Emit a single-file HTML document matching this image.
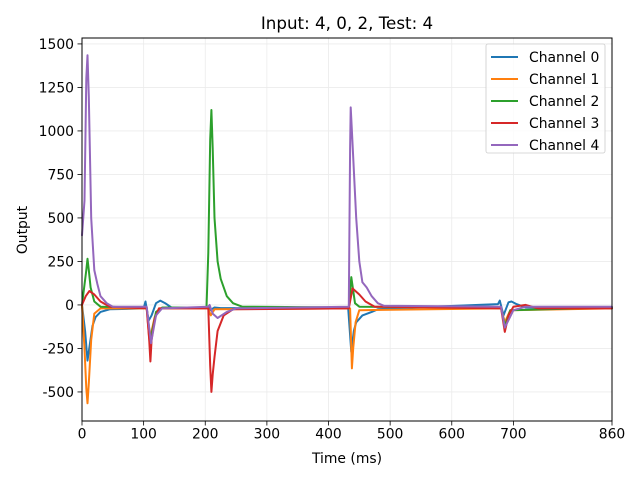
<!DOCTYPE html>
<html><head><meta charset="utf-8"><style>
body{margin:0;background:#fff;font-family:"Liberation Sans","DejaVu Sans",sans-serif}
svg text{font-family:"DejaVu Sans","Liberation Sans",sans-serif}
</style></head><body>
<svg id="c" width="640" height="480" xmlns="http://www.w3.org/2000/svg"></svg>
<script>
const xTicks=[0,100,200,300,400,500,600,700,860];
const yTicks=[-500,-250,0,250,500,750,1000,1250,1500];
const seriesNames=["Channel 0","Channel 1","Channel 2","Channel 3","Channel 4"];
const ch0T=[0,5,9,13,17,22,30,45,100,103,108,113,120,127,135,145,200,205,208,215,225,432,437,441,445,455,470,480,500,675,678,684,692,697,705,720,860];
const ch0V=[0,-150,-320,-220,-120,-70,-40,-25,-20,20,-90,-60,10,25,10,-15,-15,-10,-30,-15,-18,-20,-270,-150,-100,-60,-40,-25,-20,5,25,-60,15,20,5,-15,-20];
const ch1T=[0,4,7,9,11,15,20,30,105,108,110,113,118,125,205,209,215,435,437,438,440,444,450,680,686,695,860];
const ch1V=[0,-250,-480,-565,-450,-200,-50,-20,-20,-150,-230,-150,-70,-20,-20,-60,-25,-20,-250,-365,-250,-100,-30,-20,-100,-30,-20];
const ch2T=[0,7,9,11,14,20,30,105,111,120,130,202,205,208,210,212,215,220,225,235,245,260,433,437,443,450,680,686,695,860];
const ch2V=[0,200,265,200,100,20,-10,-15,-200,-40,-15,-15,300,950,1120,900,500,250,150,50,10,-10,-15,160,10,-10,-15,-120,-30,-15];
const ch3T=[0,6,12,20,30,45,105,109,111,113,118,125,205,208,210,212,215,220,230,245,433,439,450,460,475,680,686,692,700,720,740,860];
const ch3V=[0,50,80,60,20,-10,-20,-200,-325,-200,-80,-20,-20,-350,-500,-400,-300,-150,-60,-25,-20,95,60,20,-10,-20,-155,-60,-10,0,-20,-20];
const ch4T=[0,4,7,9,11,15,20,25,30,40,50,105,112,120,130,205,207,212,220,235,250,433,435,436,438,445,450,455,462,470,480,490,680,686,700,720,860];
const ch4V=[400,600,1300,1435,1200,500,200,120,50,10,-10,-10,-220,-60,-20,-10,0,-50,-75,-40,-20,-10,900,1135,1000,500,250,130,100,50,10,-5,-10,-130,-30,-10,-10];
const colors=["#1f77b4","#ff7f0e","#2ca02c","#d62728","#9467bd"];
const allT=[ch0T,ch1T,ch2T,ch3T,ch4T], allV=[ch0V,ch1V,ch2V,ch3V,ch4V];
const L=82,R=612,T=38,B=421,xmin=0,xmax=860,ymin=-667,ymax=1534;
const X=v=>L+(v-xmin)/(xmax-xmin)*(R-L);
const Y=v=>B-(v-ymin)/(ymax-ymin)*(B-T);
const svg=document.getElementById('c'),NS="http://www.w3.org/2000/svg";
function mk(tag,attrs,parent){const e=document.createElementNS(NS,tag);for(const k in attrs)e.setAttribute(k,attrs[k]);(parent||svg).appendChild(e);return e;}
let e;
e=mk('rect',{x:0,y:0,width:640,height:480,fill:'#fff'});


xTicks.forEach(t=>{
 e=mk('line',{x1:X(t),x2:X(t),y1:T,y2:B,stroke:'#ebebeb','stroke-width':0.8});
 
 
 e=mk('line',{x1:X(t),x2:X(t),y1:B,y2:B+4.5,stroke:'#000','stroke-width':0.8});
 
 
 e=mk('text',{x:X(t),y:B+17.5,'text-anchor':'middle','font-size':13.9});e.textContent=t;
 
 
});
yTicks.forEach(t=>{
 e=mk('line',{x1:L,x2:R,y1:Y(t),y2:Y(t),stroke:'#ebebeb','stroke-width':0.8});
 
 
 e=mk('line',{x1:L-4.5,x2:L,y1:Y(t),y2:Y(t),stroke:'#000','stroke-width':0.8});
 
 
 e=mk('text',{x:L-8,y:Y(t)+5,'text-anchor':'end','font-size':13.9});e.textContent=t;
 
 
});
for(let i=0;i<5;i++){
 const d=allT[i].map((t,j)=>(j?'L':'M')+X(t).toFixed(1)+' '+Y(allV[i][j]).toFixed(1)).join(' ');
 e=mk('path',{d:d,fill:'none',stroke:colors[i],'stroke-width':2,'stroke-linejoin':'round','stroke-linecap':'round'});
 
 
}
e=mk('rect',{x:L,y:T,width:R-L,height:B-T,fill:'none',stroke:'#000','stroke-width':1});


e=mk('text',{x:347,y:29,'text-anchor':'middle','font-size':16.7});e.textContent='Input: 4, 0, 2, Test: 4';


e=mk('text',{x:347,y:463,'text-anchor':'middle','font-size':13.9});e.textContent='Time (ms)';


e=mk('text',{x:27,y:230,'text-anchor':'middle','font-size':13.9,transform:'rotate(-90 27 230)'});e.textContent='Output';


const lg=mk('g',{});


e=mk('rect',{x:486,y:44,width:119,height:109,rx:2,fill:'#fff','fill-opacity':0.8,stroke:'#ccc','stroke-width':0.8},lg);


seriesNames.forEach((n,i)=>{
 const y=57+i*22;
 e=mk('line',{x1:491,x2:518,y1:y,y2:y,stroke:colors[i],'stroke-width':2},lg);
 
 
 e=mk('text',{x:529,y:y+5,'font-size':13.9},lg);e.textContent=n;
 
 
});
</script>
</body></html>
